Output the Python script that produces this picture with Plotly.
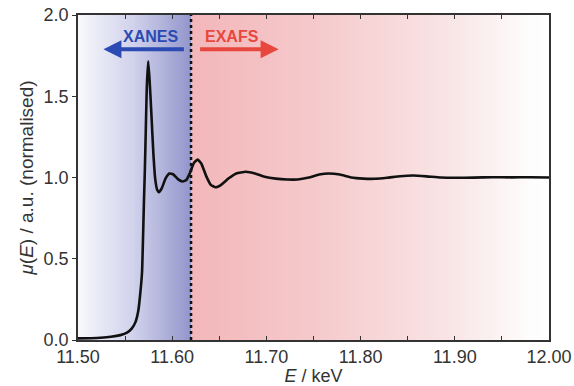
import numpy as np
import plotly.graph_objects as go

# ---- data ----
energy_keV = [11.500, 11.520, 11.535, 11.545, 11.552, 11.557, 11.561, 11.564, 11.566,
              11.568, 11.569, 11.570, 11.571, 11.572, 11.573, 11.5745, 11.576, 11.578,
              11.580, 11.582, 11.584, 11.586, 11.589, 11.593, 11.597, 11.601, 11.606,
              11.611, 11.615, 11.619, 11.623, 11.627, 11.631, 11.636, 11.641, 11.646,
              11.652, 11.660, 11.668, 11.678, 11.688, 11.698, 11.710, 11.722, 11.733,
              11.745, 11.756, 11.766, 11.778, 11.790, 11.803, 11.815, 11.828, 11.842,
              11.856, 11.870, 11.885, 11.900, 11.920, 11.940, 11.960, 11.980, 12.000]
mu_norm = [0.010, 0.012, 0.020, 0.030, 0.045, 0.070, 0.110, 0.180, 0.280,
           0.420, 0.620, 0.850, 1.050, 1.300, 1.550, 1.715, 1.600, 1.380,
           1.150, 0.990, 0.925, 0.910, 0.935, 0.995, 1.025, 1.020, 0.990,
           0.975, 0.985, 1.030, 1.090, 1.110, 1.085, 1.010, 0.955, 0.940,
           0.955, 0.995, 1.025, 1.035, 1.025, 1.005, 0.993, 0.988, 0.988,
           1.000, 1.018, 1.025, 1.018, 1.000, 0.993, 0.992, 0.998, 1.008,
           1.012, 1.007, 1.000, 0.998, 0.999, 1.002, 1.001, 1.002, 1.000]
x_ticks = [11.50, 11.55, 11.60, 11.65, 11.70, 11.75, 11.80, 11.85, 11.90, 11.95, 12.00]
x_ticktext = ["11.50", "", "11.60", "", "11.70", "", "11.80", "", "11.90", "", "12.00"]
y_ticks = [0.0, 0.5, 1.0, 1.5, 2.0]
y_ticktext = ["0.0", "0.5", "1.0", "1.5", "2.0"]
edge_split = 11.62
x_range = [11.50, 12.00]
y_range = [0.0, 2.0]

# ---- background gradient (XANES blue / EXAFS pink) ----
edges = np.linspace(x_range[0], x_range[1], 501)
centers = (edges[:-1] + edges[1:]) / 2
t = (centers - x_range[0]) / (x_range[1] - x_range[0])
split_t = (edge_split - x_range[0]) / (x_range[1] - x_range[0])
colorscale = [
    [0.0, "#f8f8fc"],
    [split_t * 0.5, "#d0d1eb"],
    [split_t - 1e-4, "#9296cb"],
    [split_t + 1e-4, "#f3b7ba"],
    [0.5, "#f5c9cb"],
    [0.8, "#f9e6e7"],
    [0.96, "#fefcfc"],
    [1.0, "#ffffff"],
]
bg = go.Heatmap(x=edges, y=y_range, z=[t, t], colorscale=colorscale, zmin=0, zmax=1,
                showscale=False, hoverinfo="skip")

line = go.Scatter(x=energy_keV, y=mu_norm, mode="lines",
                  line=dict(color="#111111", width=2.6, shape="spline", smoothing=0.4),
                  showlegend=False)

fig = go.Figure([bg, line])

font_family = "Liberation Sans, Arial, sans-serif"
fig.update_layout(
    width=574, height=386,
    margin=dict(l=78, r=25, t=15, b=46),
    paper_bgcolor="white", plot_bgcolor="white",
    font=dict(family=font_family, size=18, color="#333333"),
    showlegend=False,
)
fig.update_xaxes(range=x_range, tickvals=x_ticks, ticktext=x_ticktext,
                 ticks="inside", ticklen=4, tickwidth=1.2, tickcolor="#333",
                 showline=True, linecolor="#333", linewidth=1.5, mirror="ticks",
                 showgrid=False, zeroline=False, automargin=False,
                 title=dict(text="<i>E</i> / keV", standoff=0, font=dict(size=18)))
fig.update_yaxes(range=y_range, tickvals=y_ticks, ticktext=y_ticktext,
                 ticks="outside", ticklen=4, tickwidth=1.2, tickcolor="#333",
                 showline=True, linecolor="#333", linewidth=1.5, mirror=True,
                 showgrid=False, zeroline=False, automargin=False,
                 title=dict(text="<i>μ</i>(<i>E</i>) / a.u. (normalised)", standoff=5,
                            font=dict(size=19)))

# dotted split line
fig.add_shape(type="line", x0=edge_split, x1=edge_split, y0=0, y1=2, xref="x", yref="y",
              line=dict(color="#111", width=2.5, dash="dot"))

# labels and arrows
blue = "#2b4ab3"
red = "#e8473d"
fig.add_annotation(x=11.5766, y=1.87, text="<b>XANES</b>", showarrow=False,
                   font=dict(size=16, color=blue, family=font_family), xref="x", yref="y")
fig.add_annotation(x=11.527, y=1.79, ax=11.614, ay=1.79, xref="x", yref="y",
                   axref="x", ayref="y", text="", showarrow=True, arrowhead=2,
                   arrowsize=0.9, arrowwidth=4, arrowcolor=blue)
fig.add_annotation(x=11.663, y=1.87, text="<b>EXAFS</b>", showarrow=False,
                   font=dict(size=16, color=red, family=font_family), xref="x", yref="y")
fig.add_annotation(x=11.713, y=1.79, ax=11.628, ay=1.79, xref="x", yref="y",
                   axref="x", ayref="y", text="", showarrow=True, arrowhead=2,
                   arrowsize=0.9, arrowwidth=4, arrowcolor=red)

fig.write_html("out.html")
